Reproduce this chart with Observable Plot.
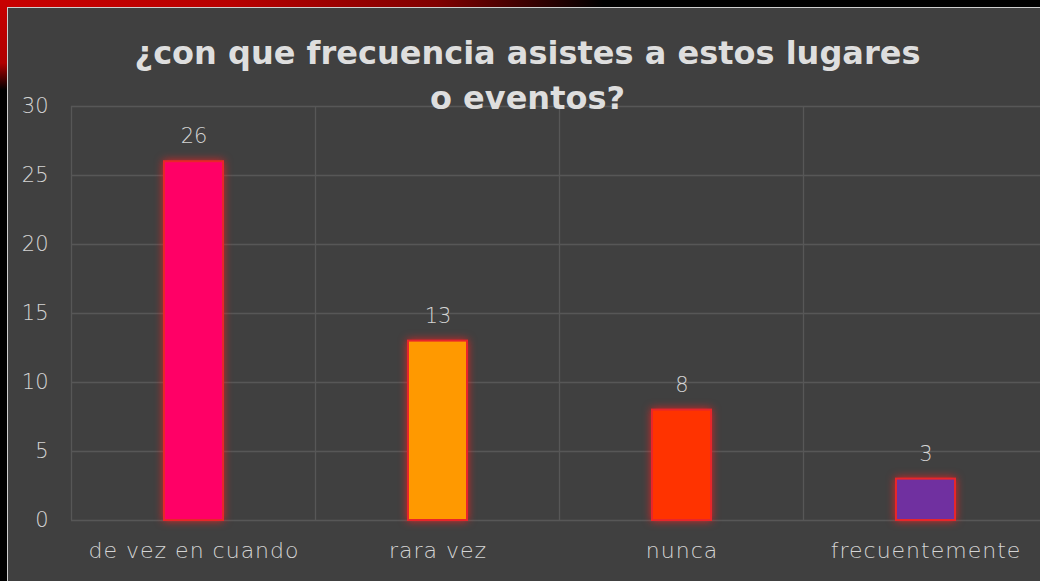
<!DOCTYPE html>
<html>
<head>
<meta charset="utf-8">
<script src="https://cdn.jsdelivr.net/npm/d3@7"></script>
<script src="https://cdn.jsdelivr.net/npm/@observablehq/plot@0.6"></script>
<style>
  html, body { margin: 0; padding: 0; background: #000; }
  #page { position: relative; width: 1040px; height: 581px; overflow: hidden; background: #000; }
  #topstrip { position: absolute; left: 0; top: 0; width: 1040px; height: 8px;
    background: linear-gradient(to right, #c80000 0%, #b80000 22%, #800000 42%, #300000 52%, #000 58%); }
  #leftstrip { position: absolute; left: 0; top: 0; width: 8px; height: 90px;
    background: linear-gradient(to bottom, #c80000 0%, #b00000 70%, #000 100%); }
  #panel { position: absolute; left: 7px; top: 7px; width: 1040px; height: 581px; background: #404040;
    border-top: 1px solid #cfcfcf; border-left: 1px solid #cfcfcf; box-sizing: border-box; }
  #title { position: absolute; left: 7px; width: 1041px; top: 31px; text-align: center;
    font-family: "DejaVu Sans", sans-serif; font-weight: bold; font-size: 32px; line-height: 45px;
    color: #dedede; }
  #chart { position: absolute; left: 0; top: 0; width: 1040px; height: 581px; overflow: hidden; }
  #chart svg .bars rect { filter: drop-shadow(0 0 4px rgba(255,30,30,0.8)); }
  #chart svg .xlab text { letter-spacing: 1px; }
</style>
</head>
<body>
<div id="page">
  <div id="topstrip"></div>
  <div id="leftstrip"></div>
  <div id="panel"></div>
  <div id="chart"></div>
  <div id="title">¿con que frecuencia asistes a estos lugares<br>o eventos?</div>
</div>
<script>
const categories = ["de vez en cuando", "rara vez", "nunca", "frecuentemente"];
const values = [26, 13, 8, 3];
const barColors = ["#FF0066", "#FF9900", "#FF3300", "#7030A0"];
const yTicks = [0, 5, 10, 15, 20, 25, 30];

const data = categories.map((c, i) => ({cat: c, value: values[i], color: barColors[i]}));

// vertical grid lines at band boundaries, drawn from the x band scale
function bandGrid(index, scales, channels, dimensions) {
  const x = scales.x;
  const bw = x.bandwidth ? x.bandwidth() : 0;
  const step = x.step ? x.step() : bw;
  const gap = (step - bw) / 2;
  const g = d3.create("svg:g");
  const xs = categories.map(c => x(c) - gap);
  xs.push(x(categories[categories.length - 1]) + bw + gap);
  for (const px of xs) {
    g.append("line")
      .attr("x1", px).attr("x2", px)
      .attr("y1", dimensions.marginTop).attr("y2", dimensions.height - dimensions.marginBottom)
      .attr("stroke", "#575757").attr("stroke-width", 1.3);
  }
  return g.node();
}

const fontFam = "'DejaVu Sans', sans-serif";

const plot = Plot.plot({
  width: 1048,
  height: 581,
  marginLeft: 71,
  marginRight: 0,
  marginTop: 106,
  marginBottom: 61,
  style: {background: "transparent", color: "#d4d4d4", fontFamily: fontFam, fontSize: "21px", fontWeight: 200, overflow: "visible", maxWidth: "none"},
  x: {domain: categories, paddingInner: 0.76, paddingOuter: 0.38, label: null},
  y: {domain: [0, 30], label: null},
  marks: [
    Plot.gridY(yTicks, {stroke: "#575757", strokeOpacity: 1, strokeWidth: 1.3}),
    bandGrid,
    Plot.barY(data, {x: "cat", y: "value", fill: d => d.color, stroke: "#e8262a", strokeWidth: 2, className: "bars"}),
    Plot.text(data, {x: "cat", y: "value", text: d => String(d.value), dy: -25, fill: "#d4d4d4", fontSize: 21, fontWeight: 200}),
    Plot.axisY(yTicks, {tickSize: 0, tickPadding: 23, fontSize: 21, fill: "#d4d4d4", label: null}),
    Plot.axisX({tickSize: 0, tickPadding: 22, fontSize: 22, fill: "#d4d4d4", label: null, className: "xlab"})
  ]
});
document.getElementById("chart").appendChild(plot);
</script>
</body>
</html>
